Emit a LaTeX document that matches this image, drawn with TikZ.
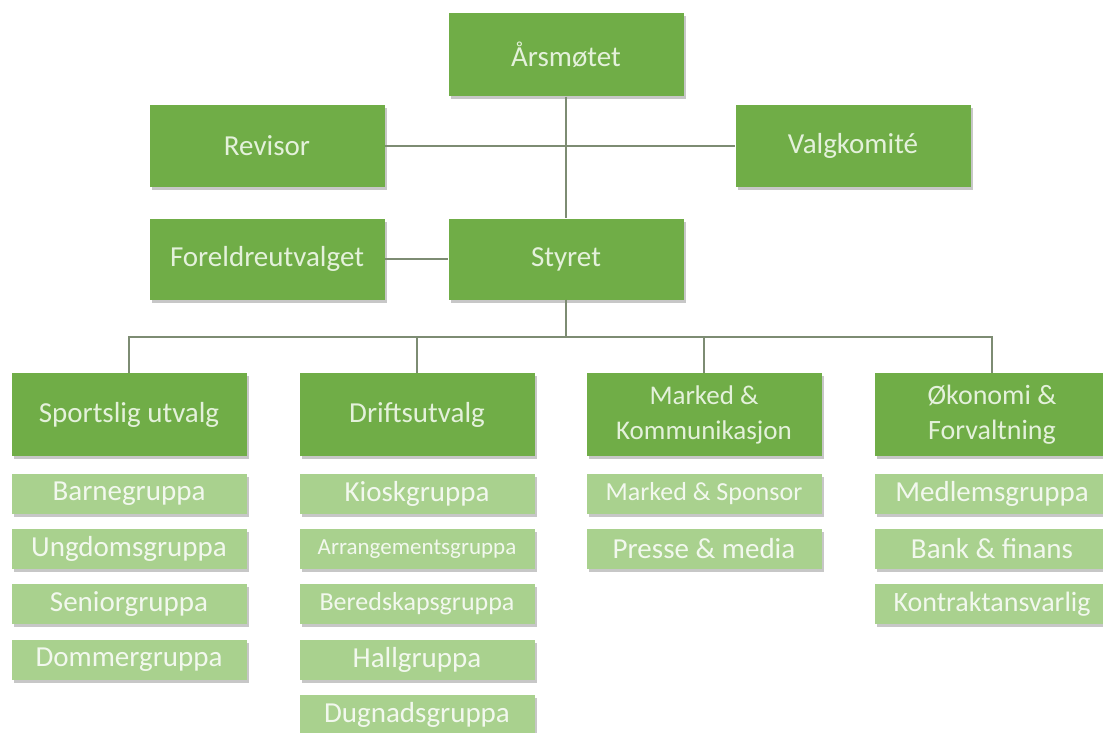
\documentclass[tikz,border=0pt]{standalone}
\usepackage{fontspec}
\setmainfont{Carlito}
\usetikzlibrary{shadows}
\definecolor{dkg}{RGB}{112,173,71}
\definecolor{ltg}{RGB}{169,209,142}
\definecolor{dktx}{RGB}{228,241,219}
\definecolor{lttx}{RGB}{242,248,238}
\definecolor{linkc}{RGB}{125,140,115}
\tikzset{
 box/.style={draw=none, fill=dkg, text=dktx, minimum width=235pt, minimum height=83pt, inner sep=0pt, align=center, font=\fontsize{29}{35}\selectfont, drop shadow={shadow xshift=2pt, shadow yshift=-3pt, fill=black, opacity=0.22}},
 sub/.style={box, fill=ltg, text=lttx, minimum height=40pt},
 link/.style={draw=linkc, line width=1.3pt}
}
\begin{document}
\begin{tikzpicture}[x=1pt,y=-1pt]
\useasboundingbox[fill=white] (0,0) rectangle (1103,733);
% top part
\node[box] (ars) at (566,55) {Årsmøtet};
\node[box, minimum height=82pt] (rev) at (267,146) {Revisor};
\node[box, minimum height=82pt] (valg) at (853,146) {Valgkomité};
\node[box, minimum height=81pt] (for) at (267,259) {Foreldreutvalget};
\node[box, minimum height=81pt] (sty) at (566,259) {Styret};
% columns
\node[box] (c1) at (129,414.5) {Sportslig utvalg};
\node[box] (c2) at (417,414.5) {Driftsutvalg};
\node[box, font=\fontsize{27}{35}\selectfont] (c3) at (704,414.5) {Marked \&\\Kommunikasjon};
\node[box, font=\fontsize{28}{35}\selectfont] (c4) at (992,414.5) {Økonomi \&\\Forvaltning};
% sub groups
\node[sub] (s11) at (129,494) {Barnegruppa};
\node[sub] (s12) at (129,549) {Ungdomsgruppa};
\node[sub] (s13) at (129,604) {Seniorgruppa};
\node[sub] (s14) at (129,660) {Dommergruppa};
\node[sub] (s21) at (417,494) {Kioskgruppa};
\node[sub, font=\fontsize{23}{28}\selectfont] (s22) at (417,549) {Arrangementsgruppa};
\node[sub, font=\fontsize{26}{30}\selectfont] (s23) at (417,604) {Beredskapsgruppa};
\node[sub] (s24) at (417,660) {Hallgruppa};
\node[sub] (s25) at (417,715) {Dugnadsgruppa};
\node[sub, font=\fontsize{26}{30}\selectfont] (s31) at (704,494) {Marked \& Sponsor};
\node[sub] (s32) at (704,549) {Presse \& media};
\node[sub] (s41) at (992,494) {Medlemsgruppa};
\node[sub] (s42) at (992,549) {Bank \& finans};
\node[sub, font=\fontsize{28}{30}\selectfont] (s43) at (992,604) {Kontraktansvarlig};
% connectors
\coordinate (bus) at (566,337);
\draw[link] (ars) -- (sty);
\draw[link] (rev) -- (valg);
\draw[link] (for) -- (sty);
\foreach \c in {c1,c2,c3,c4}{
  \draw[link] (sty.south) -- (bus) -| (\c.north);
}
\end{tikzpicture}
\end{document}
